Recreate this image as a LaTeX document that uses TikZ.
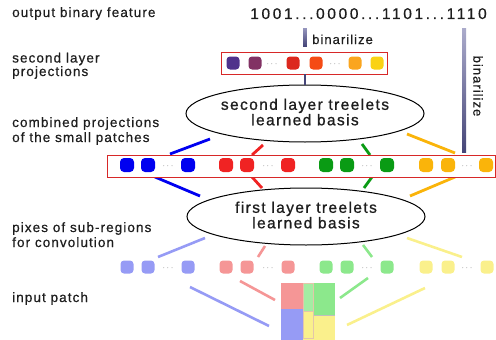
\documentclass[tikz,border=0pt]{standalone}
\usepackage{fontspec}
\setmainfont{Liberation Sans}
\newfontfamily\labelfont[LetterSpace=8,FakeBold=0.6]{Liberation Sans}
\newfontfamily\bitsfont[LetterSpace=17,FakeBold=0.4]{Liberation Sans}
\newfontfamily\basisfont[LetterSpace=9,FakeBold=0.9]{Liberation Sans}
\usetikzlibrary{shapes.geometric}

% second layer projection colours
\definecolor{pA}{RGB}{80,50,140}
\definecolor{pB}{RGB}{130,50,100}
\definecolor{pC}{RGB}{220,40,30}
\definecolor{pD}{RGB}{245,75,20}
\definecolor{pE}{RGB}{250,165,30}
\definecolor{pF}{RGB}{250,210,20}
% combined projections
\definecolor{cBlue}{RGB}{0,0,240}
\definecolor{cRed}{RGB}{240,35,35}
\definecolor{cGreen}{RGB}{10,155,20}
\definecolor{cOrange}{RGB}{250,180,10}
% pixel colours
\definecolor{lBlue}{RGB}{150,155,245}
\definecolor{lRed}{RGB}{245,150,150}
\definecolor{lGreen}{RGB}{140,232,140}
\definecolor{lYellow}{RGB}{250,240,140}
\definecolor{txt}{RGB}{30,30,30}
\definecolor{boxred}{RGB}{215,40,40}
\definecolor{barDark}{RGB}{70,70,120}
\definecolor{barLight}{RGB}{150,150,190}

\tikzset{
  lab/.style={anchor=base west, inner sep=0, text=txt,
    font=\labelfont\fontsize{13.5}{15}\selectfont},
  basistext/.style={inner sep=0, text=txt, align=center,
    font=\basisfont\fontsize{15.5}{13}\selectfont},
  basis/.style={ellipse, draw=black, line width=1pt, fill=white,
    minimum width=238pt, minimum height=57pt, inner sep=0},
  pix/.style={rounded corners=3.5pt, minimum size=13pt, inner sep=0},
  bigpix/.style={rounded corners=4pt, minimum size=14pt, inner sep=0},
  etc/.style={inner sep=0, text=black!55, font=\fontsize{9}{9}\selectfont},
  frame/.style={draw=boxred, line width=0.9pt, fill=white},
  link/.style={line width=2.8pt},
  faint/.style={line width=2.6pt}
}

\begin{document}
\begin{tikzpicture}[x=1pt,y=-1pt]
\useasboundingbox (0,0) rectangle (496,340);

% ---------- left-hand captions ----------
\node[lab] (c1)  at (12,17)  {output binary feature};
\node[lab] (c2a) at (12,62.5) {second layer};
\node[lab] (c2b) at (12,76)  {projections};
\node[lab] (c3a) at (12,127) {combined projections};
\node[lab] (c3b) at (12,142) {of the small patches};
\node[lab] (c4a) at (12,232) {pixes of sub-regions};
\node[lab] (c4b) at (12,247) {for convolution};
\node[lab] (c5)  at (12,302) {input patch};

% ---------- output bits ----------
\node[anchor=base, inner sep=0, text=txt, font=\bitsfont\fontsize{15.5}{15.5}\selectfont]
  (bits) at (368.5,19) {1001...0000...1101...1110};

% ---------- binarize bars ----------
\shade[top color=barLight, bottom color=barDark] (303.2,28) rectangle (306.8,46);
\shade[top color=barLight!80, bottom color=barDark] (462,28) rectangle (466,152);
\node[lab, font=\labelfont\fontsize{13}{13}\selectfont] (bin1) at (312,44) {binarilize};
\node[inner sep=0, text=txt, rotate=-90, font=\labelfont\fontsize{13}{13}\selectfont]
  (bin2) at (478,86) {binarilize};

% ---------- second layer projections ----------
\node[frame, minimum width=166pt, minimum height=22pt, inner sep=0] (row1) at (304,63) {};
\node[pix, fill=pA] (r1a) at (233,63) {};
\node[pix, fill=pB] (r1b) at (255,63) {};
\node[etc] (r1d1) at (272,64) {$\cdots$};
\node[pix, fill=pC] (r1c) at (293,63) {};
\node[pix, fill=pD] (r1e) at (316,63) {};
\node[etc] (r1d2) at (335,64) {$\cdots$};
\node[pix, fill=pE] (r1f) at (355,63) {};
\node[pix, fill=pF] (r1g) at (377,63) {};

% ---------- second layer basis ----------
\node[basis] (e2) at (305,113.5) {};
\node[basistext] (e2t) at (305,112) {second layer treelets\\learned basis};
\draw[barDark, line width=2pt] (row1.south -| e2.north) -- (e2.north);

% ---------- first layer basis ----------
\node[basis] (e1) at (306,216.5) {};
\node[basistext] (e1t) at (306,215) {first layer treelets\\learned basis};

% ---------- connectors, upper layer ----------
\coordinate (u1a) at (210,139); \coordinate (u1b) at (170,154);
\coordinate (u2a) at (263,145); \coordinate (u2b) at (252,155);
\coordinate (u3a) at (362,144); \coordinate (u3b) at (370,155);
\coordinate (u4a) at (407,134); \coordinate (u4b) at (455,153);
\draw[link, cBlue]   (u1a) -- (u1b);
\draw[link, cRed]    (u2a) -- (u2b);
\draw[link, cGreen]  (u3a) -- (u3b);
\draw[link, cOrange] (u4a) -- (u4b);

\coordinate (m1a) at (155,177); \coordinate (m1b) at (200,196);
\coordinate (m2a) at (252,177); \coordinate (m2b) at (262,188);
\coordinate (m3a) at (372,177); \coordinate (m3b) at (364,188);
\coordinate (m4a) at (455,177); \coordinate (m4b) at (410,196);
\draw[link, cBlue]   (m1a) -- (m1b);
\draw[link, cRed]    (m2a) -- (m2b);
\draw[link, cGreen]  (m3a) -- (m3b);
\draw[link, cOrange] (m4a) -- (m4b);

% ---------- combined projections ----------
\node[frame, minimum width=388pt, minimum height=22pt, inner sep=0] (row2) at (301,166) {};
\foreach \x/\c/\n in {127/cBlue/a, 148/cBlue/b, 188/cBlue/c,
                      226/cRed/d, 247/cRed/e, 288/cRed/f,
                      326/cGreen/g, 347/cGreen/h, 387/cGreen/i,
                      426/cOrange/j, 448/cOrange/k, 486/cOrange/l}
  \node[bigpix, fill=\c] (r2\n) at (\x,165) {};
\foreach \x/\n in {168/a, 268/b, 367/c, 467/d}
  \node[etc] (r2dots\n) at (\x,166) {$\cdots$};

% ---------- first layer links ----------
\coordinate (d1a) at (205,238); \coordinate (d1b) at (158,257);
\coordinate (d2a) at (265,246); \coordinate (d2b) at (258,257);
\coordinate (d3a) at (363,245); \coordinate (d3b) at (372,257);
\coordinate (d4a) at (407,238); \coordinate (d4b) at (462,257);
\draw[faint, lBlue]   (d1a) -- (d1b);
\draw[faint, lRed]    (d2a) -- (d2b);
\draw[faint, lGreen]  (d3a) -- (d3b);
\draw[faint, lYellow] (d4a) -- (d4b);

% ---------- sub-region pixels ----------
\foreach \x/\c/\n in {127/lBlue/a, 148/lBlue/b, 188/lBlue/c,
                      226/lRed/d, 247/lRed/e, 288/lRed/f,
                      326/lGreen/g, 347/lGreen/h, 387/lGreen/i,
                      426/lYellow/j, 448/lYellow/k, 487/lYellow/l}
  \node[pix, fill=\c] (r3\n) at (\x,267) {};
\foreach \x/\n in {168/a, 268/b, 367/c, 467/d}
  \node[etc] (r3dots\n) at (\x,268) {$\cdots$};

% ---------- pixels to input patch ----------
\coordinate (p1a) at (190,287); \coordinate (p1b) at (269,326);
\coordinate (p2a) at (240,281); \coordinate (p2b) at (275,300);
\coordinate (p3a) at (368,278); \coordinate (p3b) at (340,298);
\coordinate (p4a) at (425,288); \coordinate (p4b) at (347,325);
\draw[faint, lBlue]   (p1a) -- (p1b);
\draw[faint, lRed]    (p2a) -- (p2b);
\draw[faint, lGreen]  (p3a) -- (p3b);
\draw[faint, lYellow] (p4a) -- (p4b);

% ---------- input patch ----------
\fill[lRed]    (281,283) rectangle (303,309);
\fill[lGreen]  (303,283) rectangle (335,315);
\fill[lBlue]   (281,309) rectangle (303,340);
\fill[lYellow] (303,315) rectangle (335,340);
\fill[lGreen!80!white] (303,283) rectangle (313,311);
\fill[lYellow] (303,311.8) rectangle (313,338);
\draw[draw=black!25, line width=0.6pt] (313,315) -- (335,315);
\draw[draw=brown!45!white, line width=0.7pt] (303,283) rectangle (313,338);
\draw[draw=brown!45!white, line width=0.7pt] (303,311.4) -- (313,311.4);
\end{tikzpicture}
\end{document}
